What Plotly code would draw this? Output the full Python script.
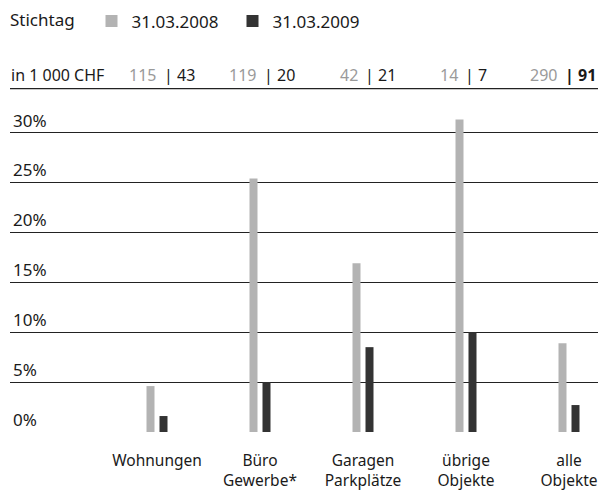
import plotly.graph_objects as go

categories = ["Wohnungen", "Büro<br>Gewerbe*", "Garagen<br>Parkplätze", "übrige<br>Objekte", "alle<br>Objekte"]
series_names = ["31.03.2008", "31.03.2009"]
pct_2008 = [4.6, 25.4, 16.9, 31.3, 8.9]
pct_2009 = [1.6, 5.0, 8.5, 10.0, 2.7]
chf_2008 = ["115", "119", "42", "14", "290"]
chf_2009 = ["43", "20", "21", "7", "91"]
y_ticks = [0, 5, 10, 15, 20, 25, 30]
y_tick_labels = ["0%", "5%", "10%", "15%", "20%", "25%", "30%"]

FONT = "Noto Sans"
GRAY = "#b3b3b3"
DARK = "#333333"
TXT = "#1a1a1a"

W, H = 598, 491
ML, MR, MT, MB = 10, 0, 100, 54
pw = W - ML - MR
ph = H - MT - MB
step = 103.0
first = 157.0
r0 = -(first - ML) / step
r1 = r0 + pw / step

fig = go.Figure()
fig.add_trace(go.Bar(x=list(range(len(categories))), y=pct_2008, name=series_names[0],
                     marker=dict(color=GRAY, line=dict(width=0)), width=8 / step, offset=-10.5 / step))
fig.add_trace(go.Bar(x=list(range(len(categories))), y=pct_2009, name=series_names[1],
                     marker=dict(color=DARK, line=dict(width=0)), width=8 / step, offset=2.5 / step))

def px_to_paper_x(px):
    return (px - ML) / pw

def px_to_paper_y(py):
    return (H - MB - py) / ph

HF = 16
annotations = [dict(text="in 1 000 CHF", x=px_to_paper_x(9), y=px_to_paper_y(75), xref="paper", yref="paper",
                    xanchor="left", yanchor="middle", showarrow=False, font=dict(size=HF, color=TXT, family=FONT))]
for i, (a, b) in enumerate(zip(chf_2008, chf_2009)):
    pipe = 165 + 100.25 * i
    annotations.append(dict(text=a + " ", x=px_to_paper_x(pipe - 2), y=px_to_paper_y(75), xref="paper", yref="paper",
                            xanchor="right", yanchor="middle", showarrow=False,
                            font=dict(size=HF, color="#9a9a9a", family=FONT)))
    txt = "<b>| " + b + "</b>" if i == len(chf_2008) - 1 else "| " + b
    annotations.append(dict(text=txt, x=px_to_paper_x(pipe - 3), y=px_to_paper_y(75), xref="paper", yref="paper",
                            xanchor="left", yanchor="middle", showarrow=False,
                            font=dict(size=HF, color=TXT, family=FONT)))

fig.update_layout(
    width=W, height=H,
    margin=dict(l=ML, r=MR, t=MT, b=MB, pad=0),
    paper_bgcolor="white", plot_bgcolor="white",
    font=dict(family=FONT, size=16, color=TXT),
    barmode="overlay",
    showlegend=True,
    legend=dict(orientation="h", x=px_to_paper_x(8), y=px_to_paper_y(2), xanchor="left", yanchor="top",
                title=dict(text="Stichtag\u00a0\u00a0", font=dict(size=17, color=TXT, family=FONT)),
                font=dict(size=17, color=TXT, family=FONT), itemwidth=30,
                entrywidth=96, entrywidthmode="pixels",
                bgcolor="rgba(0,0,0,0)"),
    xaxis=dict(range=[r0, r1], tickmode="array", tickvals=list(range(len(categories))),
               ticktext=categories, showgrid=False, zeroline=False, showline=False, ticks="",
               ticklabelstandoff=17, ticklabeloverflow="allow",
               tickfont=dict(size=15.5, color=TXT, family=FONT), fixedrange=True),
    yaxis=dict(range=[0, ph / 10.133], tickmode="array", tickvals=y_ticks, ticktext=y_tick_labels,
               ticklabelposition="inside top", showgrid=True, gridcolor="#222222", gridwidth=1,
               zeroline=False, showline=False, ticks="",
               tickfont=dict(size=17, color=TXT, family=FONT), fixedrange=True),
    annotations=annotations,
    shapes=[dict(type="line", xref="paper", yref="paper", x0=0, x1=1,
                 y0=px_to_paper_y(88.5), y1=px_to_paper_y(88.5), line=dict(color="#222222", width=1.2))],
)

fig.write_html("out.html",
               post_script="document.body.style.margin='0';document.body.style.overflow='hidden';"
                           "document.documentElement.style.overflow='hidden';",
               config={"displayModeBar": False})
